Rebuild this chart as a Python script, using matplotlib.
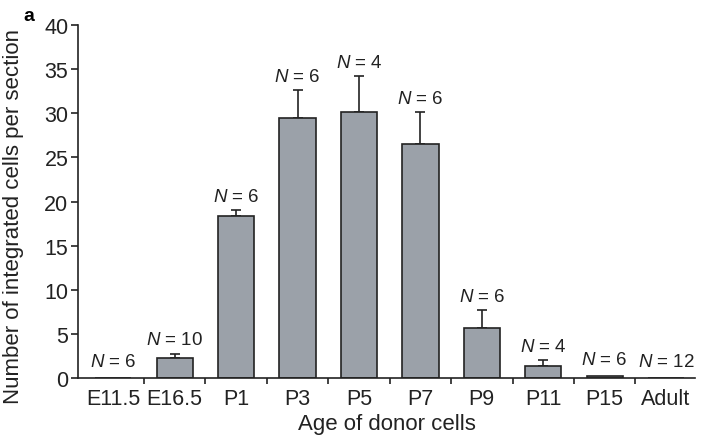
import matplotlib
matplotlib.use("Agg")
import matplotlib.pyplot as plt
import numpy as np

plt.rcParams["font.family"] = ["Liberation Sans", "DejaVu Sans"]
plt.rcParams["mathtext.fontset"] = "custom"
plt.rcParams["mathtext.it"] = "Liberation Sans:italic"
plt.rcParams["mathtext.rm"] = "Liberation Sans"

# data
ages = ["E11.5", "E16.5", "P1", "P3", "P5", "P7", "P9", "P11", "P15", "Adult"]
mean_cells = [0.0, 2.3, 18.4, 29.5, 30.2, 26.5, 5.7, 1.4, 0.25, 0.0]
sem_cells = [0.0, 0.45, 0.6, 3.1, 4.0, 3.6, 2.0, 0.65, 0.0, 0.0]
n_animals = [6, 10, 6, 6, 4, 6, 6, 4, 6, 12]

BAR_COLOR = "#9ba1a9"
EDGE = "#222222"
TXT = "#222222"

fig = plt.figure(figsize=(7.01, 4.39), dpi=100)
ax = fig.add_axes([0.1113, 0.1367, 0.880, 0.804])

x = np.arange(len(ages))
ax.bar(x, mean_cells, width=0.59, color=BAR_COLOR, edgecolor=EDGE, linewidth=1.2, zorder=2)

has_err = np.array(sem_cells) > 0
ax.errorbar(x[has_err], np.array(mean_cells)[has_err],
            yerr=[np.zeros(has_err.sum()), np.array(sem_cells)[has_err]],
            fmt="none", ecolor=EDGE, elinewidth=1.2, capsize=3.6, capthick=1.2, zorder=1)

for xi, m, s, n in zip(x, mean_cells, sem_cells, n_animals):
    off = 0.6 if m + s > 0.3 else 0.9
    ax.text(xi, m + s + off, r"$\it{N}$ = %d" % n, ha="center", va="bottom",
            fontsize=13.5, color=TXT)

ax.set_xlim(-0.575, 9.47)
ax.set_ylim(0, 40)
ax.set_yticks(np.arange(0, 41, 5))
ax.set_xticks(x)
ax.set_xticklabels(ages, fontsize=15.5, color=TXT)
ax.tick_params(axis="x", which="major", length=0, pad=7)
ax.set_xticks(x[:-1] + 0.5, minor=True)
ax.tick_params(axis="x", which="minor", direction="out", length=4, width=1.2, color=EDGE)
ax.tick_params(axis="y", direction="out", length=5, width=1.2, color=EDGE,
               labelsize=15.5, labelcolor=TXT, pad=2)

for side in ["top", "right"]:
    ax.spines[side].set_visible(False)
for side in ["left", "bottom"]:
    ax.spines[side].set_linewidth(1.2)
    ax.spines[side].set_color(EDGE)

ax.set_xlabel("Age of donor cells", fontsize=16, color=TXT, labelpad=3)
ax.set_ylabel("Number of integrated cells per section", fontsize=16, color=TXT, labelpad=3)
ax.yaxis.set_label_coords(-0.088, 0.46)

fig.text(0.033, 0.962, "a", fontsize=14, fontweight="bold", ha="left", va="center")

plt.savefig("out.png", dpi=100)
plt.close()
